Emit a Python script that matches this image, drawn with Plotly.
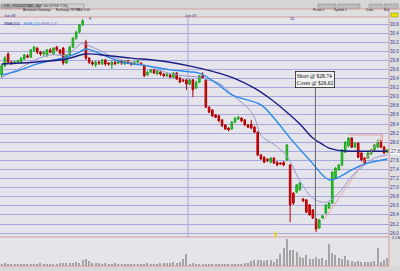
import plotly.graph_objects as go

# ---------------- DATA ----------------
idx = list(range(120))
opens = [29.48, 29.68, 29.94, 29.76, 29.74, 29.76, 29.76, 29.83, 29.90, 29.87,
         30.01, 30.07, 29.98, 29.94, 29.92, 30.03, 29.94, 30.09, 30.03, 30.07,
         29.74, 29.92, 30.09, 30.29, 30.42, 30.58, 30.20, 29.85, 29.76, 29.70,
         29.76, 29.72, 29.81, 29.74, 29.70, 29.76, 29.74, 29.79, 29.72, 29.79,
         29.74, 29.72, 29.76, 29.74, 29.68, 29.48, 29.54, 29.59, 29.50, 29.54,
         29.50, 29.46, 29.48, 29.43, 29.52, 29.41, 29.37, 29.37, 29.28, 29.37,
         29.19, 29.32, 29.46, 29.37, 28.77, 28.71, 28.60, 28.58, 28.49, 28.38,
         28.31, 28.29, 28.44, 28.51, 28.53, 28.49, 28.38, 28.40, 28.33, 28.22,
         27.72, 27.67, 27.62, 27.56, 27.65, 27.56, 27.54, 27.56, 27.61, 27.50,
         26.88, 26.90, 26.95, 26.75, 26.73, 26.62, 26.51, 26.31, 26.11, 26.33,
         26.44, 26.55, 26.66, 27.21, 27.39, 27.50, 27.78, 27.92, 28.09, 27.89,
         27.98, 27.76, 27.65, 27.65, 27.74, 27.83, 27.89, 28.00, 27.89, 27.78]
closes = [29.68, 29.85, 29.76, 29.74, 29.76, 29.79, 29.85, 29.92, 29.87, 30.03,
          30.09, 29.98, 29.94, 29.98, 30.03, 29.98, 30.07, 30.03, 29.96, 29.74,
          29.92, 30.09, 30.29, 30.42, 30.58, 30.67, 29.85, 29.76, 29.72, 29.76,
          29.74, 29.81, 29.72, 29.72, 29.76, 29.72, 29.79, 29.74, 29.79, 29.74,
          29.72, 29.76, 29.79, 29.72, 29.46, 29.54, 29.59, 29.52, 29.57, 29.50,
          29.46, 29.50, 29.43, 29.52, 29.39, 29.32, 29.35, 29.28, 29.37, 29.15,
          29.32, 29.46, 29.41, 28.77, 28.66, 28.58, 28.55, 28.47, 28.36, 28.29,
          28.27, 28.44, 28.53, 28.55, 28.47, 28.38, 28.33, 28.31, 28.22, 27.72,
          27.63, 27.56, 27.60, 27.65, 27.54, 27.50, 27.52, 27.50, 27.94, 26.62,
          26.66, 27.06, 27.10, 26.71, 26.46, 26.40, 26.33, 26.09, 26.29, 26.38,
          26.62, 26.66, 27.34, 27.43, 27.50, 27.83, 28.00, 28.09, 27.89, 27.98,
          27.67, 27.61, 27.54, 27.76, 27.83, 27.94, 28.00, 27.89, 27.76, 27.83]
highs = [29.72, 29.90, 29.98, 29.79, 29.79, 29.81, 29.87, 29.94, 29.94, 30.05,
         30.12, 30.09, 30.01, 30.01, 30.05, 30.07, 30.09, 30.12, 30.05, 30.09,
         29.94, 30.12, 30.31, 30.45, 30.60, 30.71, 30.25, 29.87, 29.79, 29.79,
         29.79, 29.83, 29.83, 29.76, 29.79, 29.79, 29.81, 29.81, 29.81, 29.81,
         29.76, 29.79, 29.81, 29.76, 29.70, 29.57, 29.61, 29.61, 29.59, 29.57,
         29.52, 29.52, 29.50, 29.54, 29.54, 29.43, 29.39, 29.39, 29.39, 29.39,
         29.35, 29.48, 29.54, 29.39, 28.79, 28.73, 28.62, 28.60, 28.51, 28.40,
         28.33, 28.47, 28.55, 28.58, 28.55, 28.51, 28.40, 28.49, 28.36, 28.24,
         27.74, 27.69, 27.65, 27.67, 27.67, 27.58, 27.56, 27.58, 27.96, 27.52,
         26.90, 27.08, 27.12, 26.77, 26.75, 26.64, 26.53, 26.33, 26.31, 26.40,
         26.64, 26.68, 27.36, 27.45, 27.52, 27.85, 28.02, 28.11, 28.11, 28.00,
         28.00, 27.78, 27.67, 27.78, 27.85, 27.96, 28.05, 28.05, 27.92, 27.85]
lows = [29.41, 29.65, 29.72, 29.70, 29.72, 29.74, 29.72, 29.81, 29.85, 29.85,
        29.98, 29.94, 29.90, 29.90, 29.87, 29.96, 29.92, 30.01, 29.92, 29.70,
        29.72, 29.90, 30.07, 30.25, 30.40, 30.55, 29.81, 29.72, 29.68, 29.65,
        29.70, 29.70, 29.68, 29.68, 29.61, 29.70, 29.72, 29.70, 29.70, 29.72,
        29.68, 29.70, 29.74, 29.70, 29.43, 29.46, 29.52, 29.50, 29.48, 29.46,
        29.43, 29.43, 29.41, 29.41, 29.37, 29.30, 29.32, 29.15, 29.26, 28.99,
        29.17, 29.30, 29.39, 28.75, 28.64, 28.55, 28.53, 28.44, 28.33, 28.27,
        28.24, 28.27, 28.42, 28.49, 28.44, 28.36, 28.31, 28.29, 28.20, 27.69,
        27.61, 27.54, 27.56, 27.54, 27.52, 27.47, 27.50, 27.47, 27.58, 26.24,
        26.62, 26.88, 26.93, 26.68, 26.44, 26.38, 26.31, 26.02, 26.09, 26.31,
        26.42, 26.53, 26.64, 27.19, 27.37, 27.47, 27.76, 27.89, 27.87, 27.87,
        27.65, 27.58, 27.52, 27.63, 27.72, 27.81, 27.87, 27.87, 27.74, 27.76]
volume_m = [0.22, 0.25, 0.20, 0.22, 0.18, 0.15, 0.15, 0.18, 0.15, 0.20,
            0.15, 0.18, 0.30, 0.15, 0.18, 0.15, 0.18, 0.20, 0.25, 0.30,
            0.25, 0.30, 0.25, 0.35, 0.25, 0.50, 0.60, 0.45, 0.30, 0.25,
            0.30, 0.20, 0.25, 0.20, 0.20, 0.25, 0.20, 0.20, 0.20, 0.18,
            0.20, 0.18, 0.20, 0.20, 0.20, 0.25, 0.20, 0.20, 0.20, 0.25,
            0.25, 0.30, 0.30, 0.35, 0.30, 0.35, 0.60, 1.05, 0.20, 0.25,
            0.20, 0.20, 0.18, 0.20, 0.20, 0.18, 0.20, 0.20, 0.18, 0.20,
            0.20, 0.18, 0.20, 0.20, 0.20, 0.30, 0.25, 0.45, 0.55, 0.50,
            0.50, 0.45, 0.55, 0.50, 0.40, 0.60, 1.10, 1.60, 2.42, 1.45,
            1.40, 1.30, 0.80, 0.70, 1.00, 0.60, 0.65, 0.80, 0.60, 0.70,
            0.55, 1.95, 1.20, 1.00, 0.75, 0.60, 0.90, 0.50, 0.45, 0.40,
            0.45, 0.35, 0.40, 0.35, 0.40, 0.45, 1.60, 0.40, 0.50, 0.75]

sma50_i = [0, 10, 20, 26, 33, 40, 50, 61, 67, 72, 78, 83, 88, 92, 96, 99, 101, 105, 112, 119]
sma50_v = [29.72, 29.76, 29.83, 29.94, 29.90, 29.85, 29.78, 29.63, 29.52, 29.40, 29.19, 28.95,
           28.66, 28.40, 28.09, 27.95, 27.87, 27.81, 27.80, 27.80]
ema20_i = [0, 5, 10, 15, 20, 24, 26, 30, 37, 45, 52, 58, 61, 67, 71, 80, 84, 89, 95, 101, 104, 108, 112, 119]
ema20_v = [29.48, 29.57, 29.70, 29.79, 29.87, 29.98, 30.05, 29.96, 29.76, 29.68, 29.59, 29.55,
           29.52, 29.26, 29.04, 28.82, 28.53, 28.09, 27.61, 27.17, 27.23, 27.39, 27.52, 27.63]
ema10_i = [0, 5, 10, 15, 20, 25, 27, 30, 35, 40, 44, 50, 55, 61, 63, 67, 72, 76, 78, 80,
           84, 88, 92, 96, 100, 104, 108, 112, 115, 119]
ema10_v = [29.43, 29.60, 29.80, 29.92, 29.92, 30.18, 30.12, 30.03, 29.85, 29.76, 29.70, 29.55,
           29.47, 29.43, 29.38, 29.30, 28.99, 28.75, 28.55, 28.15, 27.95, 27.70, 27.15, 26.77,
           26.68, 26.88, 27.25, 27.50, 27.65, 27.72]

price_tickvals = [26.0, 26.2, 26.4, 26.6, 26.8, 27.0, 27.2, 27.4, 27.6, 27.8, 28.0, 28.2,
                  28.4, 28.6, 28.8, 29.0, 29.2, 29.4, 29.6, 29.8, 30.0, 30.2, 30.4, 30.6]
price_ticktext = ["26.0", "26.2", "26.4", "26.6", "26.8", "27.0", "27.2", "27.4", "27.6", "27.8",
                  "28.0", "28.2", "28.4", "28.6", "28.8", "29.0", "29.2", "29.4", "29.6", "29.8",
                  "30.0", "30.2", "30.4", "30.6"]
last_price_label = "27.8"
trade_text = "Short @ $28.74<br>Cover @ $26.62"
legend_names = ["SMA (50)", "EMA (20)", "EMA (10)"]

# ---------------- LAYOUT HELPERS (pixel chrome) ----------------
W, H, PLOT_W = 400, 271, 389


def px(x):
    return x / PLOT_W


def py(y):
    return 1 - y / H


PRICE_TOP, PRICE_BOT, VOL_BOT = 17, 237, 266

fig = go.Figure()

fig.add_trace(go.Bar(x=idx, y=volume_m, yaxis="y2", marker=dict(color="#a4a4a4", line=dict(width=0)),
                     width=0.35, showlegend=False, hoverinfo="skip"))

fig.add_trace(go.Scatter(x=ema10_i, y=ema10_v, mode="lines", line=dict(color="#9898cc", width=1, shape="spline"),
                         showlegend=False, hoverinfo="skip"))
fig.add_trace(go.Scatter(x=ema20_i, y=ema20_v, mode="lines", line=dict(color="#2a8ae8", width=1.4, shape="spline"),
                         showlegend=False, hoverinfo="skip"))
fig.add_trace(go.Scatter(x=sma50_i, y=sma50_v, mode="lines", line=dict(color="#1c1c84", width=1.4, shape="spline"),
                         showlegend=False, hoverinfo="skip"))

fig.add_trace(go.Candlestick(
    x=idx, open=opens, high=highs, low=lows, close=closes,
    increasing=dict(fillcolor="#22e022", line=dict(color="#20a020", width=1)),
    decreasing=dict(fillcolor="#dd0a0a", line=dict(color="#b00000", width=1)),
    whiskerwidth=0, showlegend=False, hoverinfo="skip"))

shapes = []
annotations = []

# chrome backgrounds
shapes.append(dict(type="rect", xref="paper", yref="paper", x0=px(0), x1=px(W), y0=py(0), y1=py(9),
                   fillcolor="#d6d6d6", line=dict(width=0), layer="above"))
shapes.append(dict(type="rect", xref="paper", yref="paper", x0=px(0), x1=px(W), y0=py(VOL_BOT), y1=py(H),
                   fillcolor="#d8d8d8", line=dict(width=0), layer="above"))
# buttons
for (x0, x1, t, fc) in [(1, 40, "Annotation Drawings", "#a8a8a8"), (41, 67, "Exchange: NYSE", "#cfcfcf"),
                        (68, 84, "Bid: 0.00", "#cfcfcf"),
                        (318, 336, "Period ▾", "#bcbcbc"), (338, 360, "Symbol ▾", "#bcbcbc"),
                        (369, 382, "Draw", "#bcbcbc"), (384, 398, "Exit", "#bcbcbc")]:
    shapes.append(dict(type="rect", xref="paper", yref="paper", x0=px(x0), x1=px(x1), y0=py(4), y1=py(8.5),
                       fillcolor=fc, line=dict(color="#888888", width=0.5), layer="above"))
    annotations.append(dict(xref="paper", yref="paper", x=px((x0 + x1) / 2), y=py(6.3), text=t, showarrow=False,
                            font=dict(size=3, color="#222222", family="Liberation Sans")))
annotations.append(dict(xref="paper", yref="paper", x=px(2), y=py(1.8), xanchor="left", showarrow=False,
                        text="CW - 793.0007 NAS - S&P 500 (NYSE TCK)",
                        font=dict(size=3.2, color="#333333", family="Liberation Sans")))
# pink separators
for yy in (9, PRICE_TOP, PRICE_BOT, VOL_BOT):
    shapes.append(dict(type="line", xref="paper", yref="paper", x0=px(0), x1=px(W if yy == 9 else PLOT_W),
                       y0=py(yy), y1=py(yy), line=dict(color="#d49c9c", width=1), layer="above"))
shapes.append(dict(type="line", xref="paper", yref="paper", x0=px(PLOT_W), x1=px(PLOT_W), y0=py(9), y1=py(VOL_BOT),
                   line=dict(color="#d49c9c", width=1), layer="above"))
# date strip labels
for (xx, yy, t) in [(2, 12, "Jun 08"), (183, 12, "Jun 09"), (87, 15, "8"), (288, 15, "16")]:
    annotations.append(dict(xref="paper", yref="paper", x=px(xx), y=py(yy), xanchor="left", showarrow=False, text=t,
                            font=dict(size=3.8, color="#333399", family="Liberation Sans")))
# legend labels
for (xx, t, c) in [(2, legend_names[0], "#1c1c84"), (22, legend_names[1], "#2a8ae8"), (39, legend_names[2], "#8080c0")]:
    annotations.append(dict(xref="paper", yref="paper", x=px(xx), y=py(19.5), xanchor="left", showarrow=False, text=t,
                            font=dict(size=3.8, color=c, family="Liberation Sans")))
# day separator
shapes.append(dict(type="line", xref="x", yref="paper", x0=57.5, x1=57.5, y0=py(PRICE_BOT), y1=py(PRICE_TOP),
                   line=dict(color="#a8a8e0", width=1), layer="below"))
# trade lines
shapes.append(dict(type="line", xref="x", yref="y", x0=96.8, x1=96.8, y0=29.19, y1=26.24,
                   line=dict(color="#666666", width=1)))
shapes.append(dict(type="line", xref="x", yref="y", x0=99.5, x1=117.5, y0=26.30, y1=28.16,
                   line=dict(color="#e89090", width=0.8)))
shapes.append(dict(type="line", xref="x", yref="y", x0=107, x1=117.5, y0=28.16, y1=28.16,
                   line=dict(color="#e89090", width=0.8)))
shapes.append(dict(type="line", xref="x", yref="y", x0=117.5, x1=117.5, y0=28.16, y1=27.90,
                   line=dict(color="#e89090", width=0.8)))
annotations.append(dict(xref="x", yref="y", x=96.8, y=29.37, text=trade_text, showarrow=False, align="left",
                        font=dict(size=5.5, color="#000000", family="Liberation Serif"),
                        bgcolor="#f2f2f2", bordercolor="#222222", borderwidth=0.8, borderpad=1))
# alert marker
annotations.append(dict(xref="x", yref="y", x=84.4, y=25.97, text="!", showarrow=False,
                        font=dict(size=4, color="#cc0000"), bgcolor="#f0e020", borderpad=0))
# right side markers
shapes.append(dict(type="rect", xref="paper", yref="paper", x0=px(391), x1=px(398), y0=py(13), y1=py(17),
                   fillcolor="#f0e000", line=dict(color="#888800", width=0.5), layer="above"))
annotations.append(dict(xref="paper", yref="y", x=px(390), y=27.8, xanchor="left", text=last_price_label,
                        showarrow=False, bgcolor="#ffffff",
                        font=dict(size=4.5, color="#222266", family="Liberation Sans"), borderpad=0))
annotations.append(dict(xref="paper", yref="paper", x=px(390), y=py(241.5), xanchor="left", text="2.5 M",
                        showarrow=False, font=dict(size=3.5, color="#222266", family="Liberation Sans")))

fig.update_layout(
    width=W, height=H, margin=dict(l=0, r=W - PLOT_W, t=0, b=0, pad=0),
    paper_bgcolor="#dedede", plot_bgcolor="#e4e4ea",
    showlegend=False, shapes=shapes, annotations=annotations,
    xaxis=dict(range=[-0.5, 119.5], showgrid=False, zeroline=False, showticklabels=False,
               rangeslider=dict(visible=False), fixedrange=True),
    yaxis=dict(domain=[py(PRICE_BOT), py(PRICE_TOP)], range=[25.914, 30.754], side="right",
               tickvals=price_tickvals, ticktext=price_ticktext, showgrid=True, gridcolor="#a8a8e0", gridwidth=1,
               zeroline=False, ticks="", tickfont=dict(size=4.5, color="#333399", family="Liberation Sans")),
    yaxis2=dict(domain=[py(VOL_BOT), py(PRICE_BOT)], range=[0, 2.6], showgrid=False, zeroline=False,
                showticklabels=False, anchor="x"),
    bargap=0,
)

fig.write_html("out.html")
